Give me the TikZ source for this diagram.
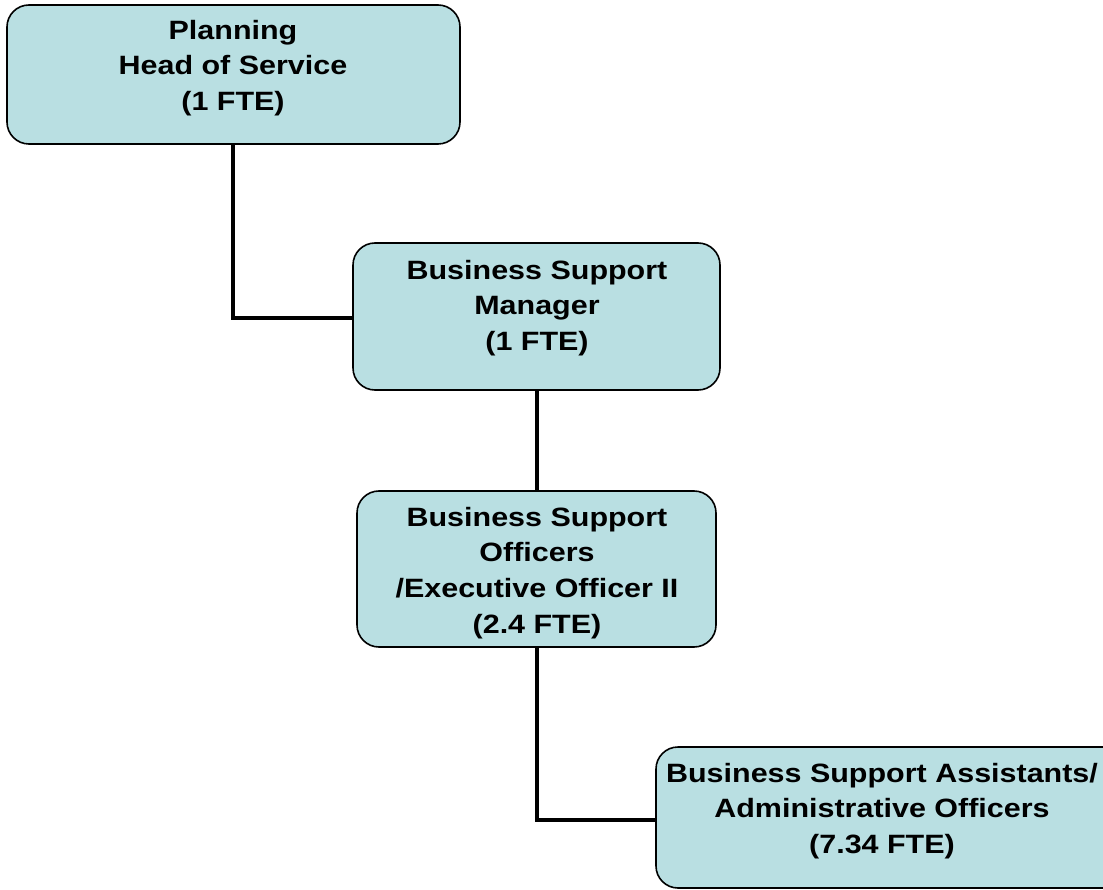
\documentclass[tikz,border=0pt]{standalone}
\usepackage{fontspec}
\setmainfont{Liberation Sans}[FakeStretch=1.15]
\definecolor{boxfill}{RGB}{185,223,226}
\begin{document}
\begin{tikzpicture}[x=1pt,y=-1pt,
  orgbox/.style={draw=black,line width=1.6pt,fill=boxfill,rounded corners=22pt,inner sep=0pt},
  orgtext/.style={align=center,font=\fontsize{26.5}{35.8}\selectfont\bfseries,inner sep=0pt},
  link/.style={line width=4.8pt}]
\clip (0,0) rectangle (1103,890);
\useasboundingbox (0,0) rectangle (1103,890);
% boxes with their labels
\path[orgbox] (7,5) rectangle (460,144);
\node[orgtext] (at) at (233,68) {Planning\\Head of Service\\(1 FTE)};
\path[orgbox] (353,243) rectangle (720,390);
\node[orgtext] (bt) at (537,308) {Business Support\\Manager\\(1 FTE)};
\path[orgbox] (357,491) rectangle (716,647);
\node[orgtext] (ct) at (537,573) {Business Support\\Officers\\/Executive Officer II\\(2.4 FTE)};
\path[orgbox] (656,747) rectangle (1125,888);
\node[orgtext] (dt) at (882,811) {Business Support Assistants/\\Administrative Officers\\(7.34 FTE)};
% connector end points on the box edges
\coordinate (aB) at (233,145);
\coordinate (bL) at (352,318);
\coordinate (bB) at (537,391);
\coordinate (cT) at (537,490);
\coordinate (cB) at (537,648);
\coordinate (dL) at (655,820);
\draw[link] (aB) |- (bL);
\draw[link] (bB) -- (cT);
\draw[link] (cB) |- (dL);
\end{tikzpicture}
\end{document}
